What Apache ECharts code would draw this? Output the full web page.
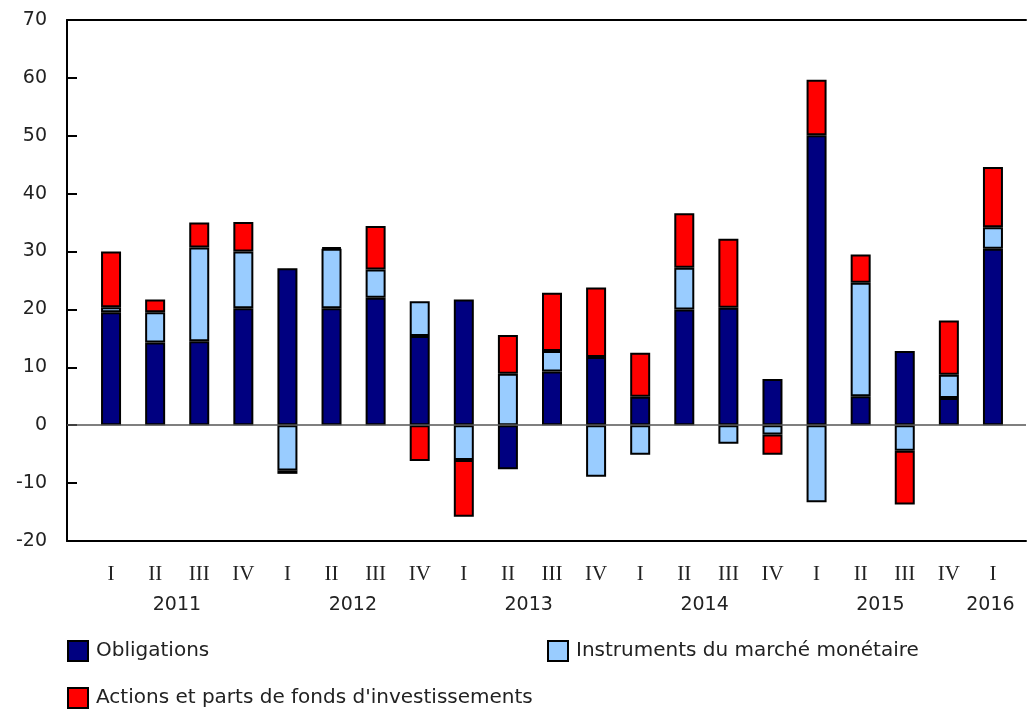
<!DOCTYPE html>
<html>
<head>
<meta charset="utf-8">
<script src="https://cdn.jsdelivr.net/npm/echarts@6/dist/echarts.min.js"></script>
<style>
  html, body { margin: 0; padding: 0; background: #fff; }
  #chart { width: 1029px; height: 710px; }
</style>
</head>
<body>
<div id="chart"></div>
<script>
  // trimestres et années
  const quarters = ['I', 'II', 'III', 'IV', 'I', 'II', 'III', 'IV', 'I', 'II', 'III', 'IV',
                    'I', 'II', 'III', 'IV', 'I', 'II', 'III', 'IV', 'I'];
  const years = ['2011', '2012', '2013', '2014', '2015', '2016'];
  const yearPos = [1.5, 5.5, 9.5, 13.5, 17.5, 20];

  // séries (milliards de dollars)
  const obligations = [19.5, 14.3, 14.5, 20.2, 27.1, 20.2, 22.0, 15.4, 21.7, -7.6, 9.3, 11.8,
                       4.9, 20.0, 20.3, 8.0, 50.1, 5.0, 12.8, 4.7, 30.5];
  const instruments = [0.9, 5.2, 16.2, 9.8, -7.8, 10.3, 4.9, 6.0, -6.0, 8.9, 3.5, -8.9,
                       -5.1, 7.2, -3.2, -1.6, -13.3, 19.6, -4.4, 4.0, 3.7];
  const actions = [9.6, 2.2, 4.3, 5.1, -0.6, 0.2, 7.5, -6.2, -9.8, 6.7, 10.1, 12.0,
                   7.6, 9.4, 11.9, -3.5, 9.6, 4.9, -9.3, 9.4, 10.4];

  const yTicks = { min: -20, max: 70, interval: 10 };

  const names = ['Obligations', 'Instruments du marché monétaire', "Actions et parts de fonds d'investissements"];
  const colors = ['#000080', '#99CCFF', '#FF0000'];

  const sans = 'DejaVu Sans';
  const serif = 'Liberation Serif';

  const chart = echarts.init(document.getElementById('chart'));

  function barSeries(name, values, color) {
    return {
      name: name,
      type: 'bar',
      stack: 'total',
      xAxisIndex: 3,
      yAxisIndex: 1,
      barWidth: 20,
      data: values,
      itemStyle: { color: color, borderColor: '#000', borderWidth: 2 }
    };
  }

  // cadre : le premier trimestre est décalé d'une colonne du bord gauche
  const xRange = { min: -1, max: 20.81 };

  const legendCommon = {
    icon: 'rect',
    itemWidth: 20,
    itemHeight: 20,
    padding: 0,
    textStyle: { fontFamily: sans, fontSize: 20, color: '#222', padding: [0, 0, 0, 3] }
  };

  const hidden = { axisLine: { show: false }, axisTick: { show: false }, axisLabel: { show: false }, splitLine: { show: false } };

  const option = {
    animation: false,
    backgroundColor: '#fff',
    grid: [
      { left: 67, right: 0, top: 20, bottom: 169 },
      { left: 89, right: 14, top: 20, bottom: 169 }
    ],
    legend: [
      Object.assign({ data: [names[0]], left: 67, top: 640 }, legendCommon),
      Object.assign({ data: [names[1]], left: 547, top: 640 }, legendCommon),
      Object.assign({ data: [names[2]], left: 67, top: 687 }, legendCommon)
    ],
    xAxis: [
      // bas du cadre
      Object.assign({}, hidden, {
        type: 'value', gridIndex: 0, position: 'bottom', min: xRange.min, max: xRange.max,
        axisLine: { show: true, onZero: false, lineStyle: { color: '#000', width: 2 } }
      }),
      // années
      Object.assign({}, hidden, {
        type: 'value', gridIndex: 0, position: 'bottom', offset: 35,
        min: xRange.min, max: xRange.max, interval: 0.5,
        axisLabel: {
          show: true, margin: 20, fontFamily: sans, fontSize: 19, color: '#222',
          formatter: v => {
            const k = yearPos.findIndex(p => Math.abs(p - v) < 1e-6);
            return k >= 0 ? years[k] : '';
          }
        }
      }),
      // haut du cadre
      Object.assign({}, hidden, {
        type: 'value', gridIndex: 0, position: 'top', min: xRange.min, max: xRange.max,
        axisLine: { show: true, onZero: false, lineStyle: { color: '#000', width: 2 } }
      }),
      // trimestres
      Object.assign({}, hidden, {
        type: 'category', gridIndex: 1, position: 'bottom', data: quarters,
        axisLine: { show: false, onZero: false },
        axisLabel: { show: true, interval: 0, margin: 23, fontFamily: serif, fontSize: 21, color: '#222' }
      })
    ],
    yAxis: [
      {
        type: 'value',
        gridIndex: 0,
        min: yTicks.min,
        max: yTicks.max,
        interval: yTicks.interval,
        axisLine: { show: true, onZero: false, lineStyle: { color: '#000', width: 2 } },
        axisTick: { show: true, inside: true, length: 10, lineStyle: { color: '#000', width: 2 } },
        splitLine: { show: false },
        axisLabel: { margin: 20, fontFamily: sans, fontSize: 19, color: '#222', padding: [6, 0, 0, 0] }
      },
      Object.assign({}, hidden, {
        type: 'value', gridIndex: 1, min: yTicks.min, max: yTicks.max, interval: yTicks.interval
      })
    ],
    series: [
      // ligne du zéro sur toute la largeur du cadre
      {
        type: 'line',
        xAxisIndex: 0,
        yAxisIndex: 0,
        data: [],
        z: 1,
        markLine: {
          silent: true,
          symbol: ['none', 'none'],
          label: { show: false },
          lineStyle: { color: '#555', width: 1.5, type: 'solid' },
          data: [{ yAxis: 0 }]
        }
      },
      barSeries(names[0], obligations, colors[0]),
      barSeries(names[1], instruments, colors[1]),
      barSeries(names[2], actions, colors[2])
    ]
  };

  chart.setOption(option);
</script>
</body>
</html>
